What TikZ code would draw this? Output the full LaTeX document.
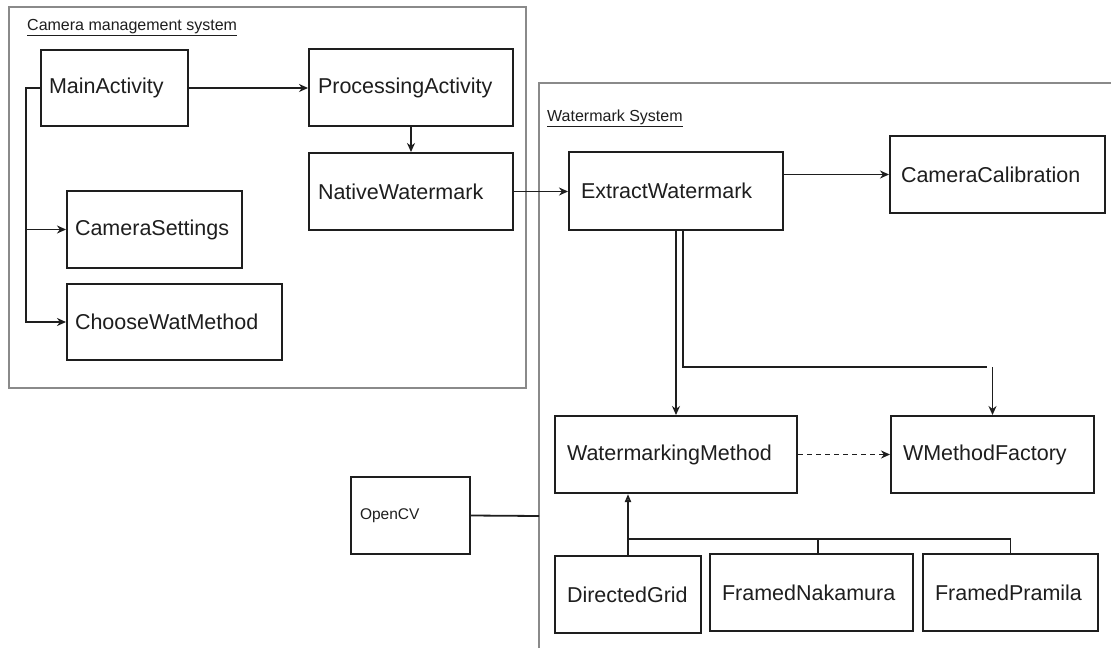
\documentclass[tikz,border=0pt]{standalone}
\usepackage{fontspec}
\setmainfont{Liberation Sans}
\usetikzlibrary{arrows.meta}
\definecolor{ink}{HTML}{1E1E1E}
\definecolor{frame}{HTML}{8A8A8A}
\tikzset{
  cls/.style={draw=ink, line width=2pt, text=ink,
    font=\fontsize{21.5}{24}\selectfont, align=left, inner ysep=0pt},
  link/.style={draw=ink, line width=1.8pt},
  arr/.style={link, -{Stealth[length=9pt,width=8pt]}},
  darr/.style={arr, dash pattern=on 5pt off 4pt},
  isa/.style={link, -{Triangle[open,length=8pt,width=6pt]}},
  pkg/.style={draw=frame, line width=1.7pt},
  pkgtitle/.style={font=\fontsize{16}{18}\selectfont, text=ink,
    inner sep=0pt, anchor=base west}
}
% class box from its two corners, text set flush left with a given inset
\newcommand{\umlbox}[8][]{%
  \pgfmathsetmacro\bxc{(#3+#5)/2}%
  \pgfmathsetmacro\byc{(#4+#6)/2}%
  \pgfmathsetmacro\bht{#6-#4}%
  \pgfmathsetmacro\btw{#5-#3-2*#7}%
  \node[cls, inner xsep=#7pt, text width=\btw pt, minimum height=\bht pt, #1]
    (#2) at (\bxc,\byc) {\mbox{#8}};}
\begin{document}
\begin{tikzpicture}[x=1pt,y=-1pt]
\useasboundingbox (0,0) rectangle (1111,648);
\fill[white] (0,0) rectangle (1111,648);

% packages
\draw[pkg] (9,7) rectangle (526,388);
\node[pkgtitle] (cmstitle) at (27,30) {\underline{Camera management system}};
\draw[pkg] (539,648) -- (539,83) -- (1111,83);
\node[pkgtitle] (wstitle) at (547,121) {\underline{Watermark System}};

% camera management classes
\umlbox{main}{41}{50}{188}{126}{8}{MainActivity}
\umlbox{proc}{309}{49}{513}{126}{9}{ProcessingActivity}
\umlbox{native}{309}{153}{513}{230}{9}{NativeWatermark}
\umlbox{cs}{67}{191}{242}{268}{8}{CameraSettings}
\umlbox{cwm}{67}{284}{282}{360}{8}{ChooseWatMethod}

% watermark classes
\umlbox{extract}{569}{152}{783}{230}{12}{ExtractWatermark}
\umlbox{calib}{890}{136}{1105}{213}{11}{CameraCalibration}
\umlbox{wm}{555}{416}{797}{493}{12}{WatermarkingMethod}
\umlbox{wmf}{891}{416}{1094}{493}{12}{WMethodFactory}
\umlbox{dg}{555}{556}{701}{633}{12}{DirectedGrid}
\umlbox{fn}{710}{554}{913}{631}{12}{FramedNakamura}
\umlbox{fp}{923}{554}{1098}{631}{12}{FramedPramila}

% external library
\umlbox[font=\fontsize{15.5}{17}\selectfont]{opencv}{351}{477}{470}{554}{9}{OpenCV}

% associations
\coordinate (trunk) at (26,88);
\draw[arr] (main.west) -- (trunk) |- (cwm.west);
\draw[arr] (trunk) |- (cs.west);
\draw[arr] (main.east) -- (main.east -| proc.west);
\draw[arr] (proc.south) -- (native.north);
\draw[arr] (native.east) -- (native.east -| extract.west);
\draw[arr] (calib.west -| extract.east) -- (calib.west);
\draw[arr] (extract.south) -- (wm.north);
\coordinate (fork) at (987,367);
\draw[link] ([xshift=7pt]extract.south) |- (fork);
\draw[arr] (wmf.north |- fork) -- (wmf.north);
\draw[darr] (wm.east) -- (wmf.west);
\coordinate (wsedge) at (539,516);
\draw[link] (opencv.east) -- (wsedge);

% generalisation
\draw[isa] (dg.north) -- (dg.north |- wm.south);
\coordinate (hbar) at (0,539);
\draw[link] (dg.north |- hbar) -| (fp.north);
\draw[link] ([xshift=6.5pt]fn.north) -- ([xshift=6.5pt]fn.north |- hbar);
\end{tikzpicture}
\end{document}
